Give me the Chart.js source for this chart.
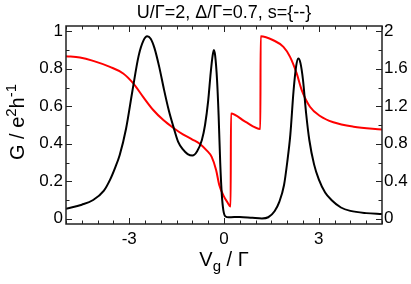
<!DOCTYPE html>
<html>
<head>
<meta charset="utf-8">
<script src="https://cdn.jsdelivr.net/npm/chart.js@4.4.1/dist/chart.umd.min.js"></script>
<style>
  html, body { margin: 0; padding: 0; background: #fff; }
  #wrap { width: 411px; height: 284px; }
</style>
</head>
<body>
<div id="wrap"><canvas id="myChart" width="411" height="284"></canvas></div>
<script>
// conductance G (left axis), black
const blackVg = [-5.0, -4.5, -4.14, -3.8, -3.6, -3.45, -3.3, -3.1, -2.9, -2.7, -2.55, -2.43, -2.32, -2.2, -2.05, -1.9, -1.75, -1.6, -1.45, -1.3, -1.15, -1.0, -0.85, -0.7, -0.6, -0.5, -0.42, -0.36, -0.32, -0.28, -0.22, -0.17, -0.12, -0.07, -0.02, 0.05, 0.15, 0.5, 0.9, 1.2, 1.4, 1.6, 1.75, 1.9, 2.0, 2.1, 2.2, 2.28, 2.35, 2.42, 2.5, 2.6, 2.7, 2.85, 3.0, 3.2, 3.4, 3.7, 4.0, 4.5, 5.0];
const blackG  = [0.053, 0.075, 0.10, 0.15, 0.21, 0.27, 0.34, 0.48, 0.68, 0.87, 0.95, 0.973, 0.96, 0.91, 0.81, 0.69, 0.58, 0.49, 0.41, 0.37, 0.345, 0.337, 0.36, 0.42, 0.50, 0.63, 0.78, 0.87, 0.90, 0.87, 0.74, 0.55, 0.30, 0.13, 0.045, 0.012, 0.008, 0.01, 0.005, 0.002, 0.008, 0.04, 0.09, 0.18, 0.30, 0.45, 0.68, 0.81, 0.855, 0.83, 0.74, 0.56, 0.42, 0.29, 0.21, 0.14, 0.10, 0.06, 0.042, 0.03, 0.025];

// red curve (right axis)
const redVg = [-5.0, -4.56, -4.14, -3.61, -3.19, -2.87, -2.56, -2.24, -1.92, -1.61, -1.3, -1.0, -0.76, -0.55, -0.39, -0.25, -0.15, -0.02, 0.1, 0.21, 0.22, 0.67, 1.15, 1.16, 1.56, 1.88, 2.09, 2.3, 2.46, 2.72, 3.04, 3.46, 4.1, 5.0];
const redS  = [1.734, 1.72, 1.684, 1.62, 1.55, 1.444, 1.30, 1.16, 1.053, 0.971, 0.90, 0.845, 0.798, 0.73, 0.66, 0.52, 0.36, 0.25, 0.18, 0.131, 1.124, 1.035, 0.957, 1.947, 1.904, 1.833, 1.727, 1.55, 1.372, 1.195, 1.096, 1.029, 0.982, 0.952];

// axis ticks
const xTicks = [-3, 0, 3];
const xMinor = [-5, -4.5, -4, -3.5, -3, -2.5, -2, -1.5, -1, -0.5, 0, 0.5, 1, 1.5, 2, 2.5, 3, 3.5, 4, 4.5, 5];
const gTicks = [0, 0.2, 0.4, 0.6, 0.8, 1];
const gMinor = [0, 0.1, 0.2, 0.3, 0.4, 0.5, 0.6, 0.7, 0.8, 0.9, 1];
const sTicks = [0, 0.4, 0.8, 1.2, 1.6, 2];
const sMinor = [0, 0.2, 0.4, 0.6, 0.8, 1, 1.2, 1.4, 1.6, 1.8, 2];

const titleText = 'U/\u0393=2, \u0394/\u0393=0.7, s={--}';
const FONT = '"Liberation Sans", Arial, Helvetica, sans-serif';
const FRAME = '#222';

const fmt = v => String(+Number(v).toFixed(1));

// inward ticks, frame and titles
const decorations = {
    id: 'decorations',
    afterDraw(chart) {
        const { ctx, chartArea: a, scales } = chart;
        const x = scales.x, y = scales.y, y2 = scales.y2;
        ctx.save();
        ctx.strokeStyle = FRAME;
        ctx.lineWidth = 1;
        ctx.beginPath();
        xMinor.forEach(v => {
            const px = Math.round(x.getPixelForValue(v)) + 0.5;
            const len = xTicks.includes(v) ? 6 : 3.5;
            ctx.moveTo(px, a.bottom); ctx.lineTo(px, a.bottom - len);
            ctx.moveTo(px, a.top); ctx.lineTo(px, a.top + len);
        });
        gMinor.forEach(v => {
            const py = Math.round(y.getPixelForValue(v)) + 0.5;
            const len = gTicks.some(t => Math.abs(t - v) < 1e-6) ? 6 : 3.5;
            ctx.moveTo(a.left, py); ctx.lineTo(a.left + len, py);
        });
        sMinor.forEach(v => {
            const py = Math.round(y2.getPixelForValue(v)) + 0.5;
            const len = sTicks.some(t => Math.abs(t - v) < 1e-6) ? 6 : 3.5;
            ctx.moveTo(a.right, py); ctx.lineTo(a.right - len, py);
        });
        ctx.stroke();

        ctx.lineWidth = 1.5;
        ctx.strokeRect(a.left, a.top, a.right - a.left, a.bottom - a.top);

        // title
        ctx.fillStyle = '#000';
        ctx.textBaseline = 'alphabetic';
        ctx.textAlign = 'center';
        ctx.font = '18px ' + FONT;
        ctx.fillText(titleText, (a.left + a.right) / 2, 18);

        // x title: V_g / Γ
        ctx.textAlign = 'left';
        const big = '20px ' + FONT, small = '15px ' + FONT;
        ctx.font = big; const wV = ctx.measureText('V').width;
        ctx.font = small; const wg = ctx.measureText('g').width;
        ctx.font = big; const wr = ctx.measureText(' / \u0393').width;
        let cx = (a.left + a.right) / 2 - (wV + wg + wr) / 2;
        const by = 266;
        ctx.font = big; ctx.fillText('V', cx, by); cx += wV;
        ctx.font = small; ctx.fillText('g', cx, by + 5); cx += wg;
        ctx.font = big; ctx.fillText(' / \u0393', cx, by);

        // y title: G / e^2 h^-1
        ctx.save();
        ctx.translate(24, (a.top + a.bottom) / 2 - 3);
        ctx.rotate(-Math.PI / 2);
        const parts = [['G / e', big, 0], ['2', small, -8], ['h', big, 0], ['-1', small, -8]];
        let tw = 0;
        parts.forEach(p => { ctx.font = p[1]; tw += ctx.measureText(p[0]).width; });
        let px = -tw / 2;
        parts.forEach(p => {
            ctx.font = p[1];
            ctx.fillText(p[0], px, p[2]);
            px += ctx.measureText(p[0]).width;
        });
        ctx.restore();
        ctx.restore();
    }
};

const ctx = document.getElementById('myChart').getContext('2d');
const myChart = new Chart(ctx, {
    type: 'line',
    data: {
        datasets: [{
            label: 'G',
            data: blackVg.map((v, i) => ({ x: v, y: blackG[i] })),
            borderColor: '#000',
            borderWidth: 2,
            pointRadius: 0,
            cubicInterpolationMode: 'monotone',
            yAxisID: 'y'
        }, {
            label: 's',
            data: redVg.map((v, i) => ({ x: v, y: redS[i] })),
            borderColor: '#ff0000',
            borderWidth: 2,
            pointRadius: 0,
            cubicInterpolationMode: 'monotone',
            yAxisID: 'y2'
        }]
    },
    options: {
        responsive: false,
        animation: false,
        devicePixelRatio: 1,
        layout: { padding: { top: 26, left: 0, right: 0, bottom: 0 } },
        plugins: { legend: { display: false }, tooltip: { enabled: false } },
        scales: {
            x: {
                type: 'linear', min: -5, max: 5,
                grid: { display: false, drawTicks: false },
                border: { display: false },
                afterBuildTicks: s => { s.ticks = xTicks.map(v => ({ value: v })); },
                afterFit: s => { s.height = 60; },
                ticks: { callback: fmt, color: '#000', padding: 5, maxRotation: 0, font: { family: FONT, size: 17 } }
            },
            y: {
                type: 'linear', position: 'left', min: -0.028, max: 1.028,
                grid: { display: false, drawTicks: false },
                border: { display: false },
                afterBuildTicks: s => { s.ticks = gTicks.map(v => ({ value: v })); },
                afterFit: s => { s.width = 66; },
                ticks: { callback: fmt, color: '#000', padding: 3, font: { family: FONT, size: 17 } }
            },
            y2: {
                type: 'linear', position: 'right', min: -0.056, max: 2.056,
                grid: { display: false, drawTicks: false },
                border: { display: false },
                afterBuildTicks: s => { s.ticks = sTicks.map(v => ({ value: v })); },
                afterFit: s => { s.width = 29; },
                ticks: { callback: fmt, color: '#000', padding: 2, font: { family: FONT, size: 17 } }
            }
        }
    },
    plugins: [decorations]
});
</script>
</body>
</html>
